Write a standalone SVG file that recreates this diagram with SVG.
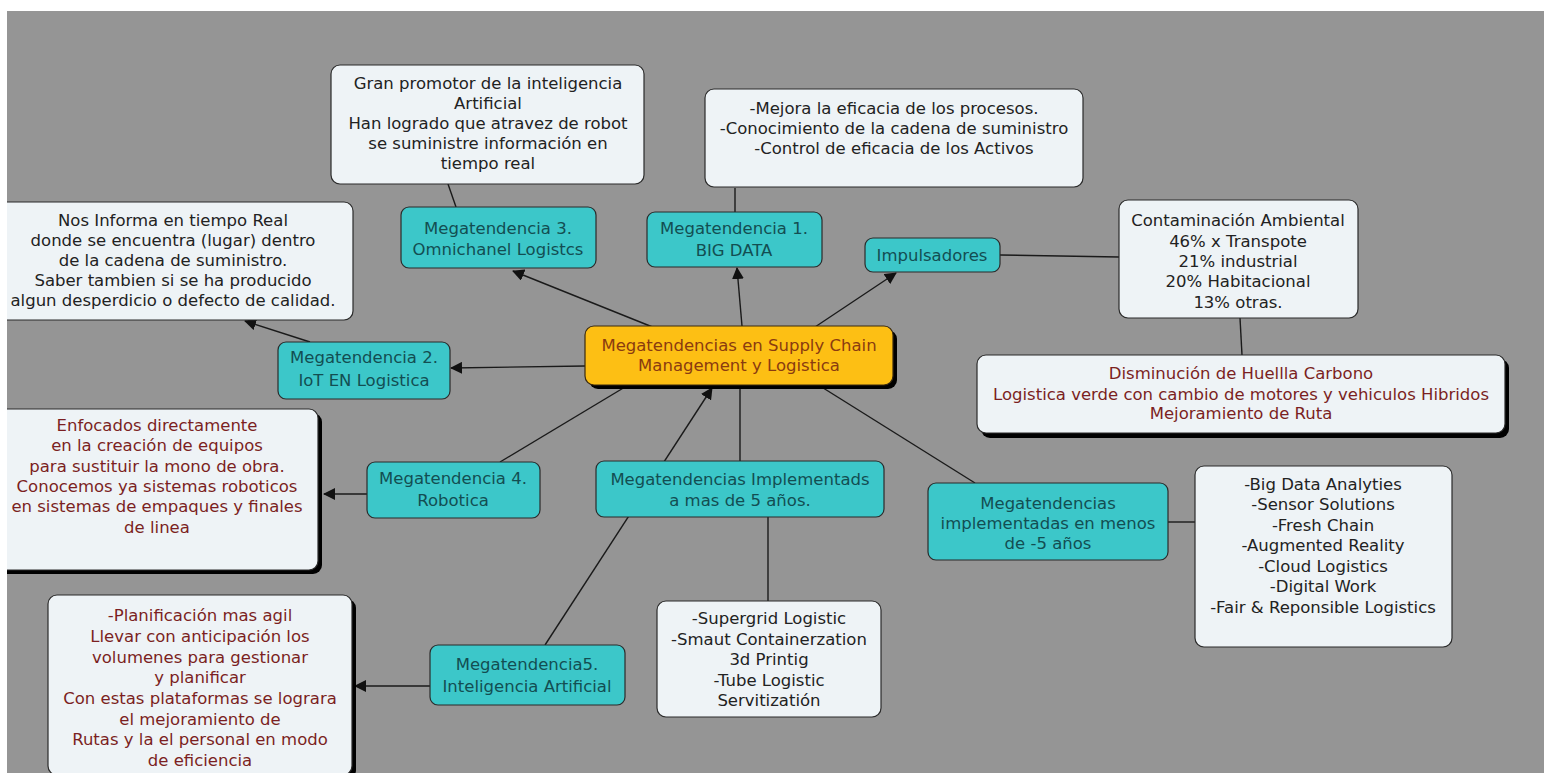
<svg xmlns="http://www.w3.org/2000/svg" width="1544" height="773" viewBox="0 0 1544 773">
  <style>
    text { font-family: "DejaVu Sans", Verdana, sans-serif; font-size: 16.5px; text-anchor: middle; }
    .note rect { fill: #eef3f6; stroke: #2b2b2b; stroke-width: 1.2; }
    .topic rect { fill: #3cc7c9; stroke: #2b2b2b; stroke-width: 1.2; }
    .topic text { fill: #134e52; }
    .note text { fill: #222; }
    .red text { fill: #7b1f22; }
    g rect.shadow { fill: #000; stroke: none; }
    .root rect.body { fill: #fdbf14; stroke: #3a2a10; stroke-width: 1.2; }
    .root text { fill: #8a3b10; }
    #connectors line { stroke: #1a1a1a; stroke-width: 1.4; }
  </style>
  <defs>
    <marker id="arrow" viewBox="0 0 12 12" refX="11" refY="6" markerWidth="12" markerHeight="12" markerUnits="userSpaceOnUse" orient="auto">
      <path d="M0,0 L12,6 L0,12 z" fill="#111"/>
    </marker>
    <clipPath id="canvas"><rect x="7" y="11" width="1537" height="762"/></clipPath>
  </defs>

  <rect width="1544" height="773" fill="#ffffff"/>
  <rect x="7" y="11" width="1537" height="762" fill="#959595"/>

  <g clip-path="url(#canvas)">
    <!-- links between concepts -->
    <g id="connectors">
      <line x1="448" y1="184" x2="456" y2="207"/>
      <line x1="735" y1="188" x2="735" y2="212"/>
      <line x1="1000" y1="255" x2="1119" y2="257"/>
      <line x1="1240" y1="318" x2="1242" y2="355"/>
      <line x1="655" y1="328" x2="513" y2="271" marker-end="url(#arrow)"/>
      <line x1="742" y1="326" x2="737" y2="268" marker-end="url(#arrow)"/>
      <line x1="815" y1="327" x2="896" y2="273" marker-end="url(#arrow)"/>
      <line x1="585" y1="366" x2="451" y2="368" marker-end="url(#arrow)"/>
      <line x1="310" y1="342" x2="245" y2="321" marker-end="url(#arrow)"/>
      <line x1="625" y1="387" x2="500" y2="462"/>
      <line x1="545" y1="645" x2="712" y2="388" marker-end="url(#arrow)"/>
      <line x1="740" y1="385" x2="740" y2="461"/>
      <line x1="768" y1="517" x2="768" y2="601"/>
      <line x1="820" y1="386" x2="975" y2="483"/>
      <line x1="1168" y1="522" x2="1195" y2="522"/>
      <line x1="367" y1="494" x2="324" y2="494" marker-end="url(#arrow)"/>
      <line x1="430" y1="686" x2="355" y2="686" marker-end="url(#arrow)"/>
    </g>

    <g id="promotor" class="note">
      <rect x="331" y="65" width="313" height="119" rx="9"/>
      <text x="488" y="89">Gran promotor de la inteligencia</text>
      <text x="488" y="109">Artificial</text>
      <text x="488" y="129">Han logrado que atravez de robot</text>
      <text x="488" y="149">se suministre información en</text>
      <text x="488" y="169">tiempo real</text>
    </g>

    <g id="bigdata-notes" class="note">
      <rect x="705" y="89" width="378" height="98" rx="9"/>
      <text x="894" y="114">-Mejora la eficacia de los procesos.</text>
      <text x="894" y="134">-Conocimiento de la cadena de suministro</text>
      <text x="894" y="154">-Control de eficacia de los Activos</text>
    </g>

    <g id="iot-notes" class="note">
      <rect x="-20" y="202" width="373" height="118" rx="9"/>
      <text x="173" y="226">Nos Informa en tiempo Real</text>
      <text x="173" y="246">donde se encuentra (lugar) dentro</text>
      <text x="173" y="266">de la cadena de suministro.</text>
      <text x="173" y="286">Saber tambien si se ha producido</text>
      <text x="173" y="306">algun desperdicio o defecto de calidad.</text>
    </g>

    <g id="mega3" class="topic">
      <rect x="401" y="207" width="195" height="61" rx="8"/>
      <text x="498" y="234">Megatendencia 3.</text>
      <text x="498" y="255">Omnichanel Logistcs</text>
    </g>

    <g id="mega1" class="topic">
      <rect x="647" y="212" width="175" height="55" rx="8"/>
      <text x="734" y="234">Megatendencia 1.</text>
      <text x="734" y="256">BIG DATA</text>
    </g>

    <g id="impulsadores" class="topic">
      <rect x="865" y="238" width="135" height="34" rx="8"/>
      <text x="932" y="261">Impulsadores</text>
    </g>

    <g id="contaminacion" class="note">
      <rect x="1119" y="200" width="239" height="118" rx="9"/>
      <text x="1238" y="226">Contaminación Ambiental</text>
      <text x="1238" y="247">46% x Transpote</text>
      <text x="1238" y="267">21% industrial</text>
      <text x="1238" y="287">20% Habitacional</text>
      <text x="1238" y="308">13% otras.</text>
    </g>

    <g id="huella" class="note red">
      <rect class="shadow" x="981" y="359" width="528" height="79" rx="9"/>
      <rect x="977" y="355" width="528" height="78" rx="9"/>
      <text x="1241" y="379">Disminución de Huellla Carbono</text>
      <text x="1241" y="400">Logistica verde con cambio de motores y vehiculos Hibridos</text>
      <text x="1241" y="419">Mejoramiento de Ruta</text>
    </g>

    <g id="mega2" class="topic">
      <rect x="278" y="342" width="172" height="57" rx="8"/>
      <text x="364" y="363">Megatendencia 2.</text>
      <text x="364" y="386">IoT EN Logistica</text>
    </g>

    <g id="root" class="root">
      <rect class="shadow" x="589" y="330" width="308" height="59" rx="9"/>
      <rect class="body" x="585" y="326" width="308" height="59" rx="9"/>
      <text x="739" y="351">Megatendencias en Supply Chain</text>
      <text x="739" y="371">Management y Logistica</text>
    </g>

    <g id="robotica-notes" class="note red">
      <rect class="shadow" x="-16" y="413" width="338" height="161" rx="9"/>
      <rect x="-20" y="409" width="338" height="161" rx="9"/>
      <text x="157" y="431">Enfocados directamente</text>
      <text x="157" y="451">en la creación de equipos</text>
      <text x="157" y="472">para sustituir la mono de obra.</text>
      <text x="157" y="492">Conocemos ya sistemas roboticos</text>
      <text x="157" y="512">en sistemas de empaques y finales</text>
      <text x="157" y="533">de linea</text>
    </g>

    <g id="mega4" class="topic">
      <rect x="367" y="462" width="173" height="56" rx="8"/>
      <text x="453" y="484">Megatendencia 4.</text>
      <text x="453" y="506">Robotica</text>
    </g>

    <g id="implementadas-mas" class="topic">
      <rect x="596" y="461" width="288" height="56" rx="8"/>
      <text x="740" y="485">Megatendencias Implementads</text>
      <text x="740" y="506">a mas de 5 años.</text>
    </g>

    <g id="implementadas-menos" class="topic">
      <rect x="928" y="483" width="240" height="77" rx="8"/>
      <text x="1048" y="509">Megatendencias</text>
      <text x="1048" y="529">implementadas en menos</text>
      <text x="1048" y="549">de -5 años</text>
    </g>

    <g id="menos-lista" class="note">
      <rect x="1195" y="466" width="257" height="181" rx="9"/>
      <text x="1323" y="490">-Big Data Analyties</text>
      <text x="1323" y="510">-Sensor Solutions</text>
      <text x="1323" y="531">-Fresh Chain</text>
      <text x="1323" y="551">-Augmented Reality</text>
      <text x="1323" y="572">-Cloud Logistics</text>
      <text x="1323" y="592">-Digital Work</text>
      <text x="1323" y="613">-Fair &amp; Reponsible Logistics</text>
    </g>

    <g id="mega5" class="topic">
      <rect x="430" y="645" width="195" height="60" rx="8"/>
      <text x="527" y="670">Megatendencia5.</text>
      <text x="527" y="692">Inteligencia Artificial</text>
    </g>

    <g id="ia-notes" class="note red">
      <rect class="shadow" x="52" y="599" width="304" height="180" rx="9"/>
      <rect x="48" y="595" width="304" height="180" rx="9"/>
      <text x="200" y="621">-Planificación mas agil</text>
      <text x="200" y="642">Llevar con anticipación los</text>
      <text x="200" y="663">volumenes para gestionar</text>
      <text x="200" y="683">y planificar</text>
      <text x="200" y="704">Con estas plataformas se lograra</text>
      <text x="200" y="725">el mejoramiento de</text>
      <text x="200" y="745">Rutas y la el personal en modo</text>
      <text x="200" y="766">de eficiencia</text>
    </g>

    <g id="mas-lista" class="note">
      <rect x="657" y="601" width="224" height="116" rx="9"/>
      <text x="769" y="624">-Supergrid Logistic</text>
      <text x="769" y="645">-Smaut Containerzation</text>
      <text x="769" y="665">3d Printig</text>
      <text x="769" y="686">-Tube Logistic</text>
      <text x="769" y="706">Servitizatión</text>
    </g>
  </g>
</svg>
